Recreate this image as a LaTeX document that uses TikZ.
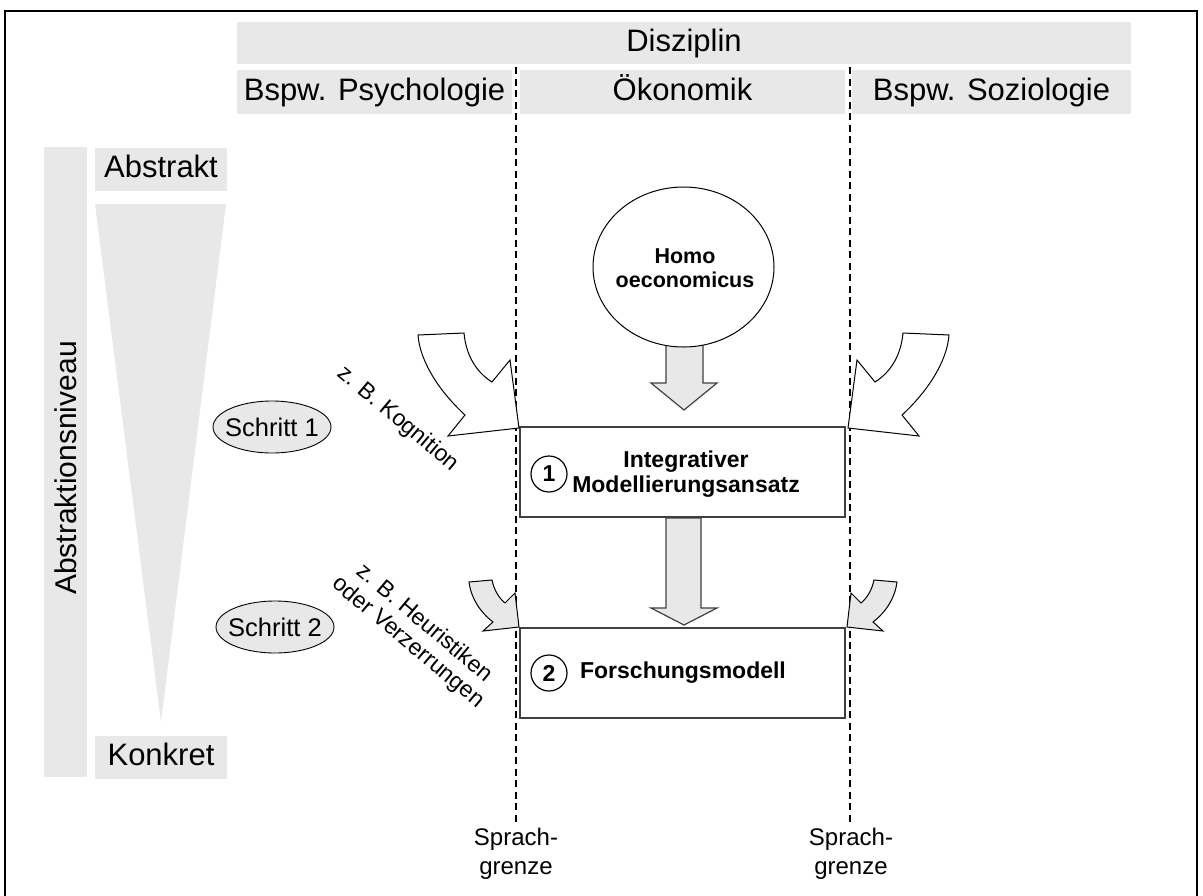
\documentclass[tikz,border=0pt]{standalone}
\usepackage{fontspec}
\setmainfont{Liberation Sans}
\usetikzlibrary{shapes.geometric}
\definecolor{lg}{HTML}{E8E8E8}
\definecolor{boxline}{HTML}{404040}
\begin{document}
\begin{tikzpicture}[x=1pt,y=-1pt,
  hdr/.style={fill=lg, inner sep=0pt, text height=22pt, text depth=6pt, font=\fontsize{31}{36}\selectfont},
  bigbox/.style={draw=boxline, line width=1.3pt, fill=white, minimum width=325pt, minimum height=90pt, inner sep=0pt},
  numc/.style={circle, draw=black, line width=1.2pt, minimum size=36pt, inner sep=0pt, font=\bfseries\fontsize{23}{27}\selectfont},
  boxtext/.style={align=center, inner sep=0pt, font=\bfseries\fontsize{23}{25}\selectfont},
  stepell/.style={ellipse, draw=black, line width=0.9pt, fill=lg, minimum width=118pt, minimum height=52pt, inner sep=0pt},
  steptext/.style={inner sep=0pt, font=\fontsize{25.5}{30}\selectfont},
  difflabel/.style={align=center, inner sep=0pt, rotate=-40, font=\fontsize{23}{25}\selectfont},
  sprach/.style={align=center, inner sep=0pt, font=\fontsize{24}{29}\selectfont},
  border/.style={draw=black, line width=2.7pt, dash pattern=on 7pt off 4.5pt},
  blockarrow/.style={draw=boxline, line width=1.2pt, fill=lg},
  curvearrow/.style={draw=black, line width=1pt, line join=miter},
]
\useasboundingbox (0,0) rectangle (1203,895);
% outer frame
\draw[line width=1.5pt] (5,905) -- (5,11) -- (1197,11) -- (1197,905);

% header
\node[hdr, minimum width=894pt, minimum height=42pt] (disz) at (684,43) {Disziplin};
\node[hdr, minimum width=275pt, minimum height=44pt] (psy) at (374.5,92) {Bspw. Psychologie};
\node[hdr, minimum width=325pt, minimum height=44pt] (oek) at (682.5,92) {Ökonomik};
\node[hdr, minimum width=279pt, minimum height=44pt] (soz) at (991.5,92) {Bspw. Soziologie};

% abstraction scale
\node[fill=lg, minimum width=43pt, minimum height=630pt, inner sep=0pt] (scale) at (65.5,462) {};
\node[rotate=90, inner sep=0pt, font=\fontsize{30}{36}\selectfont] (scaletext) at (66,468) {Abstraktionsniveau};
\node[hdr, minimum width=132pt, minimum height=43pt] (abstr) at (161,169.5) {Abstrakt};
\node[hdr, minimum width=132pt, minimum height=43pt] (konkr) at (161,757.5) {Konkret};
\fill[lg] (95,204) -- (226,204) -- (161,722) -- cycle;

% language borders
\coordinate (b1top) at (516,67);
\coordinate (b1bot) at (516,823);
\coordinate (b2top) at (850,67);
\coordinate (b2bot) at (850,823);
\draw[border] (b1top) -- (b1bot);
\draw[border] (b2top) -- (b2bot);
\node[sprach, anchor=north] (sg1) at (516,828) {Sprach-\\grenze};
\node[sprach, anchor=north] (sg2) at (851,828) {Sprach-\\grenze};

% straight block arrows
\draw[blockarrow] (666,335) -- (666,383) -- (651,383) -- (684,410) -- (717,383) -- (703,383) -- (703,335) -- cycle;
\node[ellipse, draw=black, line width=1pt, fill=white, minimum width=181pt, minimum height=160pt, inner sep=0pt] (homo) at (683.5,267) {};
\node[boxtext, font=\bfseries\fontsize{21.5}{24}\selectfont] (homotext) at (685,268) {Homo\\oeconomicus};

\node[bigbox] (box1) at (682.5,472) {};
\node[bigbox] (box2) at (682.5,673) {};
\draw[blockarrow] (666,518) -- (666,608) -- (651,608) -- (684,625) -- (717,608) -- (701,608) -- (701,518) -- cycle;
\node[numc] (n1) at (549,474) {1};
\node[numc] (n2) at (549,673) {2};
\node[boxtext] (t1) at (686,474.5) {Integrativer\\Modellierungsansatz};
\node[boxtext] (t2) at (683,673) {Forschungsmodell};

% steps
\node[stepell] (s1) at (272,427) {};
\node[steptext] (s1t) at (s1.center) {Schritt 1};
\node[stepell] (s2) at (275,627) {};
\node[steptext] (s2t) at (s2.center) {Schritt 2};
\node[difflabel] (l1) at (398,419) {z. B. Kognition};
\node[difflabel] (l2) at (416,633) {z. B. Heuristiken\\oder Verzerrungen};

% curved arrows, large
\draw[curvearrow, fill=white] (418,335) -- (464,333) .. controls (466,355) and (476,372) .. (492,382) -- (510,360) -- (519,428) -- (448,436) -- (465,415) .. controls (440,392) and (420,362) .. (418,335) -- cycle;
\begin{scope}[xshift=1367pt, xscale=-1]
\draw[curvearrow, fill=white] (418,335) -- (464,333) .. controls (466,355) and (476,372) .. (492,382) -- (510,360) -- (519,428) -- (448,436) -- (465,415) .. controls (440,392) and (420,362) .. (418,335) -- cycle;
\end{scope}
% curved arrows, small
\draw[curvearrow, fill=lg] (469,582) -- (492,580) .. controls (494,590) and (499,598) .. (505,603) -- (515,593) -- (519,627) -- (483,631) -- (493,622) .. controls (480,612) and (471,598) .. (469,582) -- cycle;
\begin{scope}[xshift=1366pt, xscale=-1]
\draw[curvearrow, fill=lg] (469,582) -- (492,580) .. controls (494,590) and (499,598) .. (505,603) -- (515,593) -- (519,627) -- (483,631) -- (493,622) .. controls (480,612) and (471,598) .. (469,582) -- cycle;
\end{scope}
\end{tikzpicture}
\end{document}
